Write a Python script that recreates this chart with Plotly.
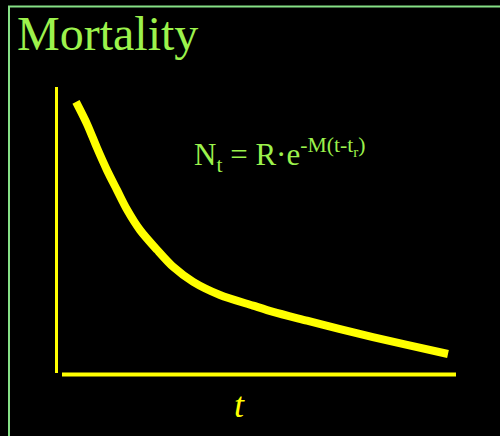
import plotly.graph_objects as go

# Data (arbitrary units)
t_values = [0.0, 0.30, 0.56, 0.83, 1.10, 1.37, 1.72, 2.18, 2.61, 3.15, 3.87,
            4.76, 5.30, 6.21, 7.10, 7.98, 8.90, 10.0]
n_values = [100.0, 91.8, 83.3, 75.1, 67.8, 60.6, 53.1, 45.8, 39.6, 34.1, 29.3,
            25.4, 23.1, 19.9, 16.8, 13.9, 11.0, 7.7]

title_text = "Mortality"
equation_text = "N<sub>t</sub> = R·e<sup>-M(t-t<sub>r</sub>)</sup>"
x_label = "t"

GREEN = "#9cf24c"
YELLOW = "#ffff00"
BORDER = "#86e086"

fig = go.Figure()
fig.add_trace(go.Scatter(
    x=t_values, y=n_values, mode="lines",
    line=dict(color=YELLOW, width=8, shape="spline", smoothing=0.8),
    hoverinfo="skip", showlegend=False,
))

fig.update_layout(
    width=500, height=436,
    margin=dict(l=57, r=43, t=88, b=61),
    paper_bgcolor="black", plot_bgcolor="black",
    xaxis=dict(range=[-0.511, 10.242], visible=False, fixedrange=True),
    yaxis=dict(range=[0, 105.1], visible=False, fixedrange=True),
    showlegend=False,
    shapes=[
        # outer border (top & left visible)
        dict(type="rect", xref="paper", yref="paper",
             x0=-0.12, x1=2.0, y0=-1.0, y1=1.2840,
             line=dict(color=BORDER, width=2), layer="below"),
        # vertical axis line
        dict(type="line", xref="paper", yref="paper",
             x0=-0.00125, x1=-0.00125, y0=0.007, y1=1.0035,
             line=dict(color=YELLOW, width=3)),
        # horizontal axis line
        dict(type="line", xref="paper", yref="paper",
             x0=0.0125, x1=0.9975, y0=0.0017, y1=0.0017,
             line=dict(color=YELLOW, width=4)),
    ],
    annotations=[
        dict(text=title_text, xref="paper", yref="paper",
             x=-0.105, y=1.19, xanchor="left", yanchor="middle",
             showarrow=False,
             font=dict(family="Liberation Serif, Times New Roman, serif",
                       size=48, color=GREEN)),
        dict(text=equation_text, xref="paper", yref="paper",
             x=0.338, y=0.765, xanchor="left", yanchor="middle",
             showarrow=False,
             font=dict(family="Liberation Serif, Times New Roman, serif",
                       size=31, color=GREEN)),
        dict(text="<i>" + x_label + "</i>", xref="paper", yref="paper",
             x=0.455, y=-0.1045, xanchor="center", yanchor="middle",
             showarrow=False,
             font=dict(family="Liberation Serif, Times New Roman, serif",
                       size=36, color=YELLOW)),
    ],
)

fig.write_html(
    "out.html",
    config={"displayModeBar": False, "staticPlot": True},
    post_script="document.body.style.margin='0px';document.body.style.overflow='hidden';",
)
